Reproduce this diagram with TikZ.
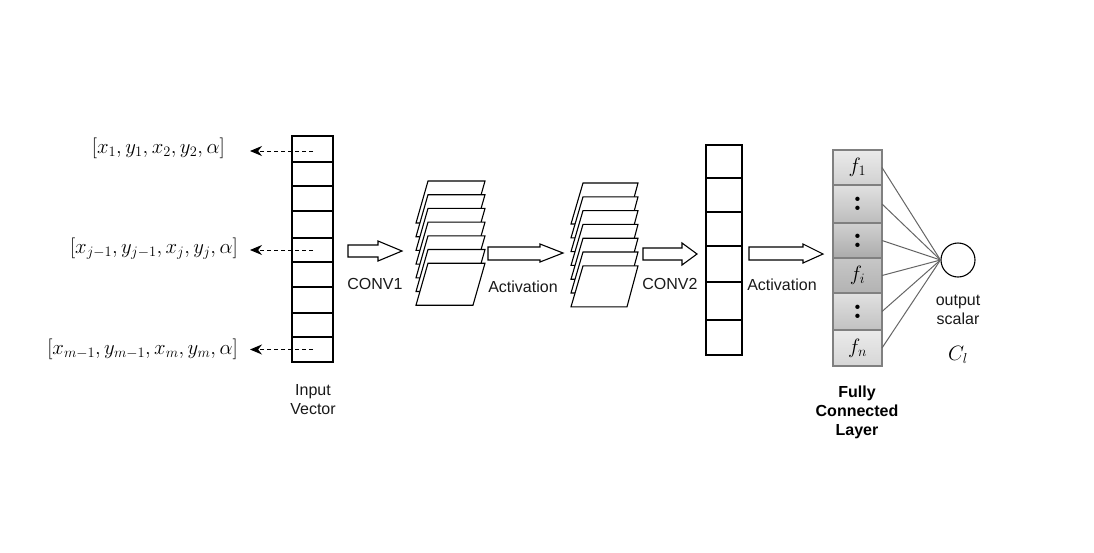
\documentclass[tikz,border=0pt]{standalone}
\usepackage{fontspec}
\setsansfont{Liberation Sans}
\usetikzlibrary{arrows.meta}
\newcommand{\bigcolon}{{\fontsize{30}{30}\selectfont\textbf{:}}}
\begin{document}
\begin{tikzpicture}[x=1pt,y=-1pt,
  cellline/.style={draw=black,line width=1.1pt},
  lab/.style={font=\sffamily\fontsize{16}{19}\selectfont, align=center, inner sep=0pt, text=black!90},
  blab/.style={font=\sffamily\bfseries\fontsize{16}{19}\selectfont, align=center, inner sep=0pt},
  mlab/.style={font=\fontsize{20.5}{24}\selectfont, inner sep=0pt},
  darr/.style={dash pattern=on 4pt off 3pt, line width=1pt, -{Stealth[length=12pt,width=10pt]}},
  blk/.style={draw=black, line width=1.1pt, fill=white, line join=miter},
  fmap/.style={draw=black, line width=1.1pt, fill=white},
  fcline/.style={draw=black!60, line width=1pt},
  fcborder/.style={draw=black!50, line width=1.1pt},
]
\useasboundingbox (0,0) rectangle (1094,552);

% ---------- input vector ----------
\foreach \a/\b [count=\i] in {136/162,162/186,186/211,211/238,238/262,262/287,287/313,313/337,337/362}{
  \draw[cellline] (292,\a) rectangle (333,\b);
  \coordinate (in\i) at (313,{(\a+\b)/2});
}
\node[lab] (inlab) at (313,400) {Input\\Vector};

% ---------- input labels ----------
\node[mlab, anchor=east] (l1) at (225,148) {$[x_1,y_1,x_2,y_2,\alpha]$};
\node[mlab, anchor=east] (l5) at (238,249) {$[x_{j-1},y_{j-1},x_j,y_j,\alpha]$};
\node[mlab, anchor=east] (l9) at (238,349) {$[x_{m-1},y_{m-1},x_m,y_m,\alpha]$};
\coordinate (t1) at (250,151);
\coordinate (t5) at (250,250);
\coordinate (t9) at (250,349.5);
\draw[darr] (in1 |- t1) -- (t1);
\draw[darr] (in5) -- (t5);
\draw[darr] (in9) -- (t9);

% ---------- block arrows ----------
\draw[blk] (348,245) -- (378,245) -- (378,241) -- (402,251) -- (378,261) -- (378,257) -- (348,257) -- cycle;
\node[lab] (conv1) at (375,284) {CONV1};

\draw[blk] (488,247) -- (540,247) -- (540,244) -- (563,253) -- (540,262) -- (540,260) -- (488,260) -- cycle;
\node[lab] (act1) at (523,287) {Activation};

\draw[blk] (643,248) -- (682,248) -- (682,243) -- (697,254) -- (682,265) -- (682,260) -- (643,260) -- cycle;
\node[lab] (conv2) at (670,284) {CONV2};

\draw[blk] (749,247) -- (803,247) -- (803,244) -- (823,254) -- (803,263) -- (803,260) -- (749,260) -- cycle;
\node[lab] (act2) at (782,285) {Activation};

% ---------- feature map stacks ----------
\foreach \k in {0,...,6}{
  \draw[fmap] (428,{181+13.7*\k}) -- ++(57,0) -- ++(-12,42) -- ++(-57,0) -- cycle;
}
\foreach \k in {0,...,6}{
  \draw[fmap] (583,{183+13.8*\k}) -- ++(55,0) -- ++(-11,41) -- ++(-56,0) -- cycle;
}

% ---------- second vector ----------
\foreach \a/\b in {145/178,178/212,212/246,246/282,282/320,320/355}{
  \draw[cellline] (706,\a) rectangle (742,\b);
}

% ---------- fully connected layer ----------
\foreach \a/\b/\ct/\cb/\t [count=\i] in {
  150/185/8/18/{$f_1$},
  185/223/12/26/{\bigcolon},
  223/258/18/33/{\bigcolon},
  258/293/22/30/{$f_i$},
  293/330/12/24/{\bigcolon},
  330/366/8/16/{$f_n$}}{
  \shade[top color=black!\ct, bottom color=black!\cb] (833,\a) rectangle (882,\b);
  \draw[fcborder] (833,\a) rectangle (882,\b);
  \node[mlab] (fc\i) at (857.5,{(\a+\b)/2}) {\t};
  \coordinate (fe\i) at (882,{(\a+\b)/2});
}
\node[blab] (fclab) at (857,412) {Fully\\Connected\\Layer};

% ---------- output ----------
\node[circle, draw=black, line width=1.1pt, minimum size=34pt, inner sep=0pt] (out) at (958,260) {};
\foreach \i in {1,...,6}{
  \draw[fcline] (fe\i) -- (out.west);
}
\node[lab] (outlab) at (958,310) {output\\scalar};
\node[mlab] (cl) at (958,355) {$C_l$};
\end{tikzpicture}
\end{document}
